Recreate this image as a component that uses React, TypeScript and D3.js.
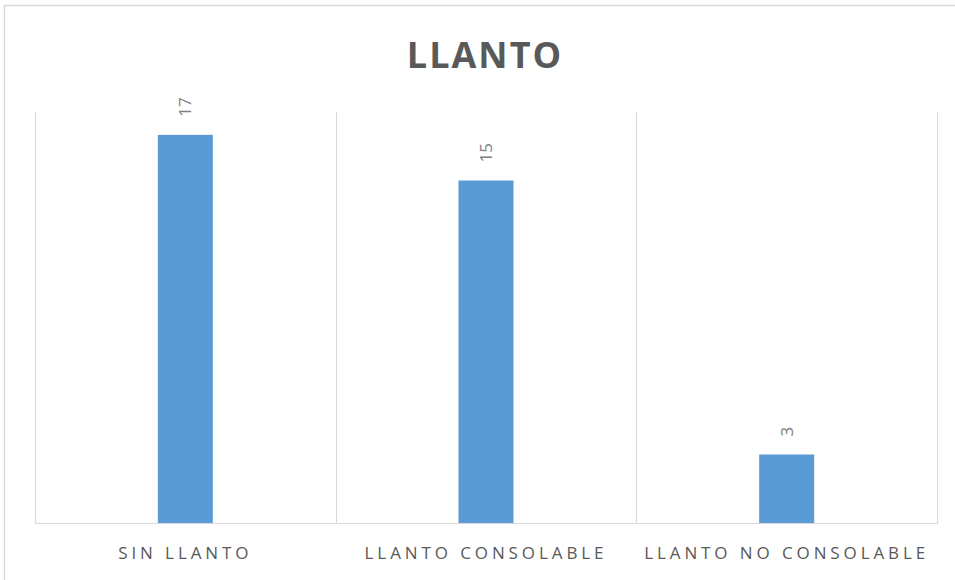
import React from "react";
import * as d3 from "d3";

const categories = ["SIN LLANTO", "LLANTO CONSOLABLE", "LLANTO NO CONSOLABLE"];
const values = [17, 15, 3];
const title = "LLANTO";

export default function App() {
  const W = 955, H = 580;
  const left = 35, right = 937, top = 112, bottom = 523;
  const x = d3.scaleBand<string>().domain(categories).range([left, right]).paddingInner(0).paddingOuter(0);
  const y = d3.scaleLinear().domain([0, 18]).range([bottom, top]);
  const bw = 55;
  const bounds = [left, ...categories.map((c) => (x(c) as number) + x.bandwidth())];
  return (
    <svg width={W} height={H} style={{ position: "absolute", left: 0, top: 0, background: "#fff" }}>
      <rect x={4.5} y={5.5} width={W + 10} height={H + 10} fill="#fff" stroke="#d9d9d9" strokeWidth={1.5} />
      <text x={485} y={68} textAnchor="middle" fontFamily="Open Sans, sans-serif" fontWeight={700} fontSize={36} letterSpacing={2} fill="#595959">
        {title}
      </text>
      {bounds.map((b, i) => (
        <line key={i} x1={Math.round(b) + 0.5} x2={Math.round(b) + 0.5} y1={top} y2={bottom} stroke="#d9d9d9" strokeWidth={1} />
      ))}
      <line x1={left} x2={right + 1} y1={bottom + 0.5} y2={bottom + 0.5} stroke="#d9d9d9" strokeWidth={1.2} />
      {categories.map((c, i) => {
        const cx = (x(c) as number) + x.bandwidth() / 2;
        return (
          <g key={c}>
            <rect x={cx - bw / 2} y={y(values[i])} width={bw} height={bottom - y(values[i])} fill="#5b9bd5" />
            <text
              transform={`translate(${cx + 6},${y(values[i]) - 18}) rotate(-90)`}
              fontFamily="Open Sans, sans-serif"
              fontSize={17}
              fill="#7f7f7f"
            >
              {values[i]}
            </text>
            <text x={cx} y={559} textAnchor="middle" fontFamily="Open Sans, sans-serif" fontSize={17} letterSpacing={3.9} fill="#595959">
              {c}
            </text>
          </g>
        );
      })}
    </svg>
  );
}
